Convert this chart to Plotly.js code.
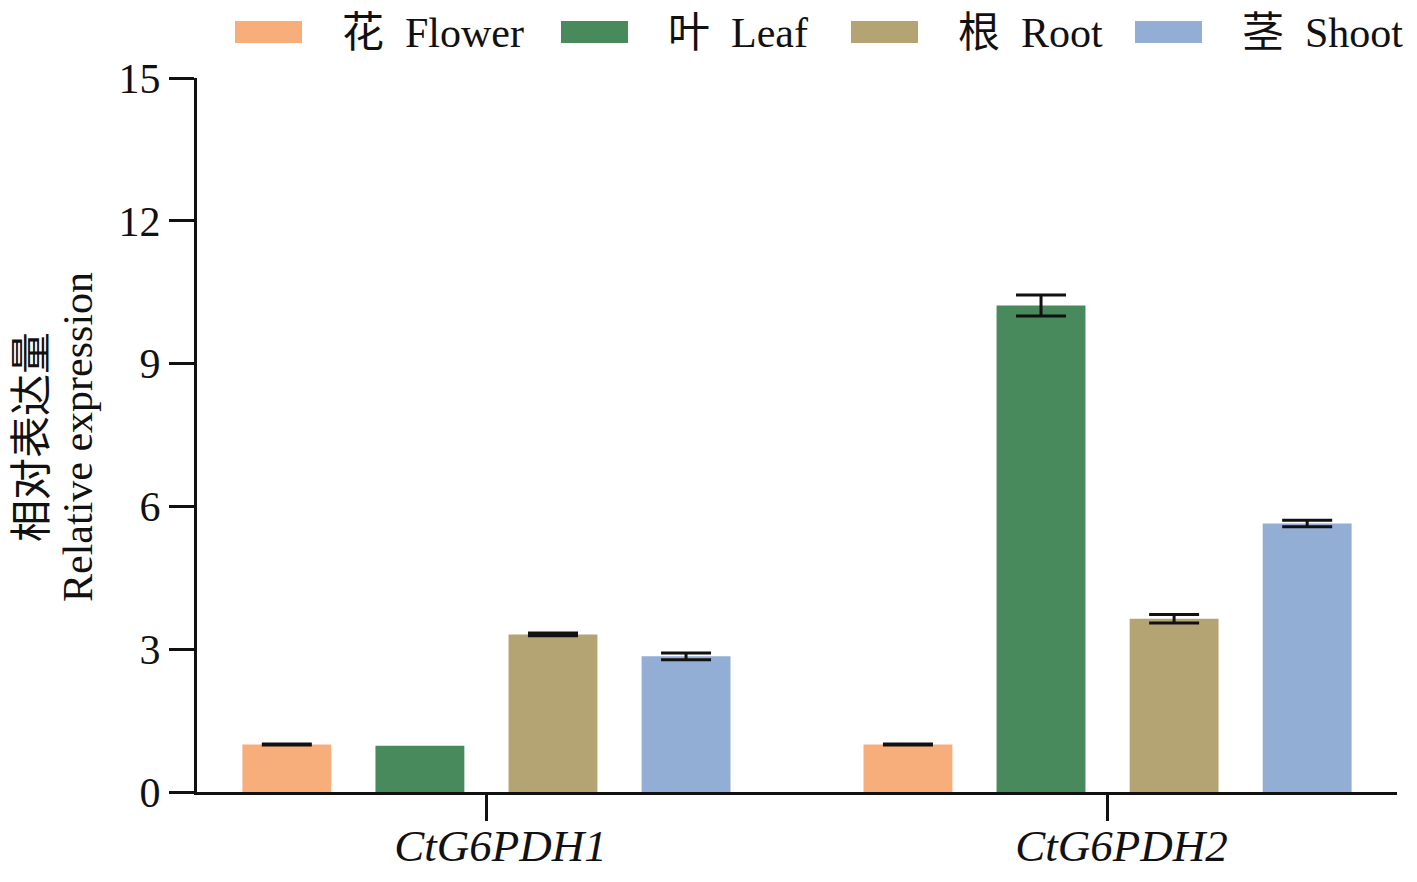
<!DOCTYPE html>
<html>
<head>
<meta charset="utf-8">
<script src="https://cdn.plot.ly/plotly-3.0.1.min.js"></script>
<style>html,body{margin:0;padding:0;background:#fff;}#chart{width:1417px;height:882px;}</style>
</head>
<body>
<div id="chart"></div>
<script>
// ---- data ----
const genes = ['CtG6PDH1', 'CtG6PDH2'];
const seriesNames = ['花  Flower', '叶  Leaf', '根  Root', '茎  Shoot'];
const flowerVals = [1.00, 1.00];
const flowerErr  = [0.01, 0.01];
const leafVals   = [0.97, 10.22];
const leafErr    = [NaN, 0.22];   // no visible error bar on CtG6PDH1 leaf
const rootVals   = [3.31, 3.64];
const rootErr    = [0.03, 0.09];
const shootVals  = [2.85, 5.64];
const shootErr   = [0.07, 0.07];
const yTicks = [0, 3, 6, 9, 12, 15];
const yTitleLines = ['相对表达量', 'Relative expression'];

const colors = ['#F7AE7B', '#488A5B', '#B4A474', '#93AED4'];
const serif = 'Liberation Serif, Times New Roman, Noto Sans CJK SC, serif';
const ink = '#111111';

const vals = [flowerVals, leafVals, rootVals, shootVals];
const errs = [flowerErr, leafErr, rootErr, shootErr];

const traces = vals.map((v, i) => ({
  type: 'bar',
  name: seriesNames[i],
  x: genes,
  y: v,
  marker: {color: colors[i], line: {width: 0}},
  error_y: {type: 'data', array: errs[i], visible: true, color: ink, thickness: 3, width: 25},
  showlegend: false,
  hoverinfo: 'none'
}));

// custom legend (wide swatches) in paper coordinates
const legendStartPx = [235, 561, 851, 1135];
const plotLeft = 197, plotW = 1200, plotTop = 78, plotH = 714;
const px2x = p => (p - plotLeft) / plotW;
const py2y = p => (plotTop + plotH - p) / plotH;
const shapes = [];
const annotations = [];
seriesNames.forEach((n, i) => {
  const s = legendStartPx[i];
  shapes.push({type: 'rect', xref: 'paper', yref: 'paper',
    x0: px2x(s), x1: px2x(s + 67), y0: py2y(43), y1: py2y(21),
    fillcolor: colors[i], line: {width: 0}});
  annotations.push({xref: 'paper', yref: 'paper', x: px2x(s + 105), y: py2y(33),
    xanchor: 'left', yanchor: 'middle', showarrow: false, text: n,
    font: {family: serif, size: 42, color: ink}});
});
// y-axis title, two rotated lines
const yTitleCenters = [32, 78];
yTitleLines.forEach((t, i) => {
  annotations.push({xref: 'paper', yref: 'paper', x: px2x(yTitleCenters[i]), y: py2y(437),
    xanchor: 'center', yanchor: 'middle', showarrow: false, textangle: -90, text: t,
    font: {family: serif, size: 42, color: ink}});
});

const layout = {
  width: 1417, height: 882,
  margin: {l: 197, r: 20, t: 78, b: 90},
  paper_bgcolor: '#ffffff', plot_bgcolor: '#ffffff',
  barmode: 'group', bargap: 0.143, bargroupgap: 0.332,
  font: {family: serif, color: ink},
  xaxis: {
    type: 'category', range: [-0.466, 1.466],
    showline: true, linecolor: ink, linewidth: 3,
    ticks: 'outside', ticklen: 26, tickwidth: 3, tickcolor: ink,
    ticklabelstandoff: -14, ticklabelshift: 14,
    tickfont: {family: serif, size: 45, color: ink, style: 'italic'},
    showgrid: false, zeroline: false, fixedrange: true
  },
  yaxis: {
    range: [0, 15], tickvals: yTicks, ticktext: yTicks.map(String),
    showline: true, linecolor: ink, linewidth: 3,
    ticks: 'outside', ticklen: 25, tickwidth: 3, tickcolor: ink,
    tickfont: {family: serif, size: 42, color: ink},
    showgrid: false, zeroline: false, fixedrange: true,
    automargin: false
  },
  shapes: shapes,
  annotations: annotations
};

Plotly.newPlot('chart', traces, layout, {staticPlot: true, displayModeBar: false});
</script>
</body>
</html>
